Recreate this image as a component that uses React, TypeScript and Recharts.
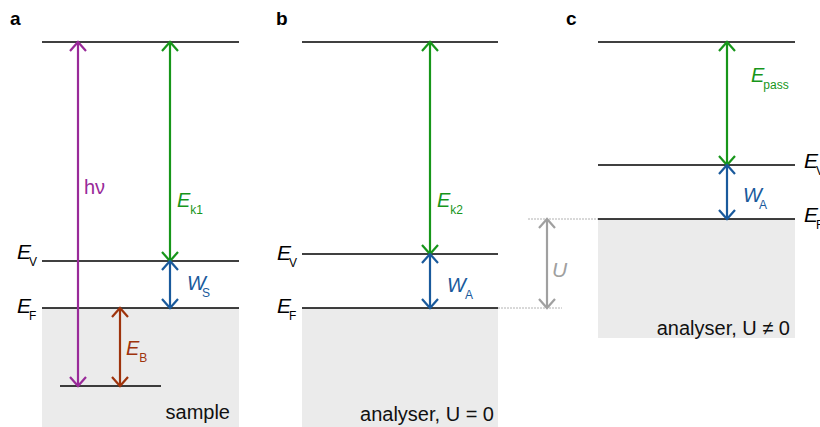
import React from "react";
import { ComposedChart, XAxis, YAxis, ReferenceLine, ReferenceArea, ReferenceDot, Scatter } from "recharts";

// energies in arbitrary units, 0 = Fermi level of the sample
const panelIds = ["a", "b", "c"];
const panelNames = ["sample", "analyser, U = 0", "analyser, U ≠ 0"];
const fermiLevels = [0, 0, 8.9];
const vacuumLevels = [4.7, 5.4, 14.3];
const upperLevels = [26.6, 26.6, 26.6];
const coreLevel = -7.8;
const analyserBottom = -3.0;

// energy differences drawn as arrows
const arrowNames = ["hν", "Ek1", "WS", "EB", "Ek2", "WA_b", "U", "Epass", "WA_c"];
const arrowFrom = [coreLevel, vacuumLevels[0], fermiLevels[0], coreLevel, vacuumLevels[1], fermiLevels[1], fermiLevels[1], vacuumLevels[2], fermiLevels[2]];
const arrowTo = [upperLevels[0], upperLevels[0], vacuumLevels[0], fermiLevels[0], upperLevels[1], vacuumLevels[1], fermiLevels[2], upperLevels[2], vacuumLevels[2]];

const FONT = "'Liberation Sans', Arial, Helvetica, sans-serif";
const PURPLE = "#992a99";
const GREEN = "#17961a";
const BLUE = "#1a5a9c";
const BROWN = "#9e330c";
const GREY = "#a0a0a0";
const FILL = "#ebebeb";

const W = 820;
const H = 427;

// horizontal layout (x in page units)
const panelX = [
  [42, 239],
  [302, 498],
  [598, 795],
];
const coreX = [60, 161];
const arrowStyle: Record<string, { x: number; color: string }> = {
  "hν": { x: 78, color: PURPLE },
  Ek1: { x: 170, color: GREEN },
  WS: { x: 170, color: BLUE },
  EB: { x: 120, color: BROWN },
  Ek2: { x: 430, color: GREEN },
  WA_b: { x: 430, color: BLUE },
  U: { x: 547, color: GREY },
  Epass: { x: 727, color: GREEN },
  WA_c: { x: 727, color: BLUE },
};

type Lbl = {
  x: number;
  y: number;
  main: string;
  sub?: string;
  color: string;
  size: number;
  italic?: boolean;
  bold?: boolean;
  anchor?: "start" | "end";
  subDx?: number;
};

const labels: Lbl[] = [
  { x: 10, y: 28.3, main: panelIds[0], color: "#000", size: 19, bold: true },
  { x: 276, y: 28.3, main: panelIds[1], color: "#000", size: 19, bold: true },
  { x: 566, y: 28.3, main: panelIds[2], color: "#000", size: 19, bold: true },
  { x: 17, y: 4.9, main: "E", sub: "V", color: "#000", size: 21, italic: true, subDx: -2 },
  { x: 17, y: -0.5, main: "E", sub: "F", color: "#000", size: 21, italic: true, subDx: -2 },
  { x: 277, y: 4.8, main: "E", sub: "V", color: "#000", size: 21, italic: true, subDx: -2 },
  { x: 277, y: -0.5, main: "E", sub: "F", color: "#000", size: 21, italic: true, subDx: -2 },
  { x: 804, y: 14.0, main: "E", sub: "V", color: "#000", size: 21, italic: true, subDx: -2 },
  { x: 804, y: 8.6, main: "E", sub: "F", color: "#000", size: 21, italic: true, subDx: -2 },
  { x: 84, y: 11.4, main: "hν", color: PURPLE, size: 20 },
  { x: 177, y: 10.1, main: "E", sub: "k1", color: GREEN, size: 20, italic: true },
  { x: 187, y: 1.8, main: "W", sub: "S", color: BLUE, size: 20, italic: true, subDx: -4 },
  { x: 126, y: -4.7, main: "E", sub: "B", color: BROWN, size: 20, italic: true },
  { x: 437, y: 10.1, main: "E", sub: "k2", color: GREEN, size: 20, italic: true },
  { x: 447, y: 1.6, main: "W", sub: "A", color: BLUE, size: 20, italic: true, subDx: -1 },
  { x: 552, y: 3.1, main: "U", color: GREY, size: 21, italic: true },
  { x: 751, y: 22.6, main: "E", sub: "pass", color: GREEN, size: 20, italic: true, subDx: -1 },
  { x: 743, y: 10.6, main: "W", sub: "A", color: BLUE, size: 20, italic: true, subDx: -3 },
  { x: 230, y: -11.1, main: panelNames[0], color: "#111", size: 20, anchor: "end" },
  { x: 494, y: -11.3, main: panelNames[1], color: "#111", size: 20, anchor: "end" },
  { x: 790, y: -2.7, main: panelNames[2], color: "#111", size: 20, anchor: "end" },
];

const HEAD_W = 8;
const HEAD_L = 9;

function arrowShape(color: string) {
  return (p: any) => {
    const { x1, y1, x2, y2 } = p;
    const top = Math.min(y1, y2);
    const bot = Math.max(y1, y2);
    return (
      <g fill="none" stroke={color} strokeWidth={2.2}>
        <line x1={x1} y1={top} x2={x2} y2={bot} />
        <polyline points={`${x1 - HEAD_W},${top + HEAD_L} ${x1},${top} ${x1 + HEAD_W},${top + HEAD_L}`} />
        <polyline points={`${x1 - HEAD_W},${bot - HEAD_L} ${x1},${bot} ${x1 + HEAD_W},${bot - HEAD_L}`} />
      </g>
    );
  };
}

function textShape(l: Lbl) {
  return (p: any) => (
    <text
      x={p.cx}
      y={p.cy}
      fill={l.color}
      fontFamily={FONT}
      fontSize={l.size}
      fontWeight={l.bold ? "bold" : "normal"}
      textAnchor={l.anchor ?? "start"}
    >
      <tspan fontStyle={l.italic ? "italic" : "normal"}>{l.main}</tspan>
      {l.sub && (
        <tspan fontStyle="normal" fontSize={12} dx={l.subDx ?? 0} dy={7}>
          {l.sub}
        </tspan>
      )}
    </text>
  );
}

export default function App() {
  return (
    <div style={{ width: W, height: H, background: "#fff" }}>
      <style>{`body{margin:0}`}</style>
      <ComposedChart width={W} height={H} margin={{ top: 0, right: 0, bottom: 0, left: 0 }} data={[]}>
        <XAxis type="number" dataKey="x" domain={[0, W]} hide allowDataOverflow />
        <YAxis type="number" dataKey="y" domain={[-11.9, 30.8]} hide allowDataOverflow />
        <Scatter data={[]} isAnimationActive={false} />

        {/* filled states */}
        <ReferenceArea x1={panelX[0][0]} x2={panelX[0][1]} y1={-11.9} y2={fermiLevels[0]} fill={FILL} fillOpacity={1} stroke="none" />
        <ReferenceArea x1={panelX[1][0]} x2={panelX[1][1]} y1={-11.9} y2={fermiLevels[1]} fill={FILL} fillOpacity={1} stroke="none" />
        <ReferenceArea x1={panelX[2][0]} x2={panelX[2][1]} y1={analyserBottom} y2={fermiLevels[2]} fill={FILL} fillOpacity={1} stroke="none" />

        {/* dashed guides for U */}
        <ReferenceLine segment={[{ x: 528, y: fermiLevels[2] }, { x: panelX[2][0], y: fermiLevels[2] }]} stroke={GREY} strokeWidth={0.8} strokeDasharray="2 1" />
        <ReferenceLine segment={[{ x: panelX[1][1], y: fermiLevels[1] }, { x: 562, y: fermiLevels[1] }]} stroke={GREY} strokeWidth={0.8} strokeDasharray="2 1" />

        {/* energy levels */}
        {panelIds.map((id, i) =>
          [fermiLevels[i], vacuumLevels[i], upperLevels[i]].map((e, j) => (
            <ReferenceLine
              key={`${id}-${j}`}
              segment={[{ x: panelX[i][0], y: e }, { x: panelX[i][1], y: e }]}
              stroke="#000"
              strokeWidth={1.7}
            />
          ))
        )}
        <ReferenceLine segment={[{ x: coreX[0], y: coreLevel }, { x: coreX[1], y: coreLevel }]} stroke="#000" strokeWidth={1.7} />

        {/* arrows */}
        {arrowNames.map((n, i) => (
          <ReferenceLine
            key={n}
            segment={[{ x: arrowStyle[n].x, y: arrowFrom[i] }, { x: arrowStyle[n].x, y: arrowTo[i] }]}
            shape={arrowShape(arrowStyle[n].color)}
          />
        ))}

        {/* labels */}
        {labels.map((l, i) => (
          <ReferenceDot key={i} x={l.x} y={l.y} r={0} shape={textShape(l)} />
        ))}
      </ComposedChart>
    </div>
  );
}
